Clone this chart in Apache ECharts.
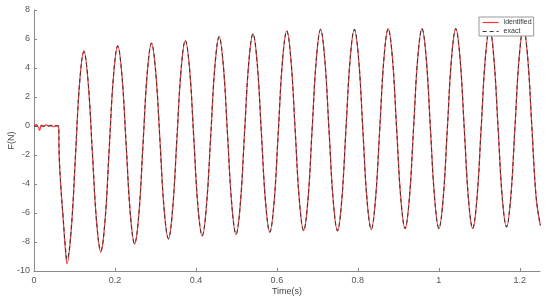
<!DOCTYPE html>
<html>
<head>
<meta charset="utf-8">
<script src="https://cdn.jsdelivr.net/npm/echarts@6/dist/echarts.min.js"></script>
<style>
  html, body { margin: 0; padding: 0; background: #fff; }
  #main { width: 550px; height: 301px; }
</style>
</head>
<body>
<div id="main"></div>
<script>
// sample times (s): flat start, the first drop, then 8 samples per cycle
const time = [
  0, 0.005, 0.010, 0.014, 0.018, 0.024, 0.030, 0.036, 0.042, 0.048, 0.054, 0.0605,
  0.0622, 0.0665, 0.0720, 0.0772,
  0.0815, 0.0919, 0.1024, 0.1128, 0.1233, 0.1337, 0.1441, 0.1546,
  0.1650, 0.1755, 0.1859, 0.1963, 0.2068, 0.2172, 0.2277, 0.2381,
  0.2485, 0.2590, 0.2694, 0.2799, 0.2903, 0.3007, 0.3112, 0.3216,
  0.3321, 0.3425, 0.3529, 0.3634, 0.3738, 0.3843, 0.3947, 0.4051,
  0.4156, 0.4260, 0.4365, 0.4469, 0.4573, 0.4678, 0.4782, 0.4887,
  0.4991, 0.5095, 0.5200, 0.5304, 0.5409, 0.5513, 0.5617, 0.5722,
  0.5826, 0.5931, 0.6035, 0.6139, 0.6244, 0.6348, 0.6453, 0.6557,
  0.6661, 0.6766, 0.6870, 0.6975, 0.7079, 0.7183, 0.7288, 0.7392,
  0.7497, 0.7601, 0.7705, 0.7810, 0.7914, 0.8019, 0.8123, 0.8227,
  0.8332, 0.8436, 0.8541, 0.8645, 0.8749, 0.8854, 0.8958, 0.9063,
  0.9167, 0.9271, 0.9376, 0.9480, 0.9585, 0.9689, 0.9793, 0.9898,
  1.0002, 1.0107, 1.0211, 1.0315, 1.0420, 1.0524, 1.0629, 1.0733,
  1.0837, 1.0942, 1.1046, 1.1151, 1.1255, 1.1359, 1.1464, 1.1568,
  1.1673, 1.1777, 1.1881, 1.1986, 1.2090, 1.2195, 1.2299, 1.2403,
  1.2508
];

// force (N)
const identified = [
  0.02, 0.1, -0.05, -0.3, 0.06, -0.04, 0.08, 0.0, 0.06, -0.05, 0.03, 0.02,
  -2.1, -4.3, -6.4, -8.4,
  -9.5, -7.2, -2.1, 3.05, 5.2, 3.0, -1.8, -6.6,
  -8.7, -6.5, -1.5, 3.4, 5.55, 3.5, -1.35, -6.1,
  -8.15, -6.1, -1.2, 3.7, 5.72, 3.7, -1.0, -5.8,
  -7.8, -5.7, -0.95, 3.9, 5.88, 3.95, -0.8, -5.6,
  -7.6, -5.5, -0.72, 4.1, 6.17, 4.15, -0.66, -5.45,
  -7.5, -5.45, -0.53, 4.3, 6.36, 4.37, -0.47, -5.32,
  -7.33, -5.25, -0.4, 4.5, 6.57, 4.55, -0.35, -5.2,
  -7.22, -5.15, -0.26, 4.63, 6.68, 4.6, -0.3, -5.15,
  -7.25, -5.2, -0.27, 4.6, 6.66, 4.65, -0.22, -5.1,
  -7.15, -5.06, -0.21, 4.66, 6.72, 4.7, -0.17, -5.05,
  -7.08, -5.05, -0.17, 4.7, 6.71, 4.68, -0.19, -5.02,
  -7.1, -5.03, -0.18, 4.7, 6.72, 4.7, -0.17, -5.05,
  -7.08, -5.02, -0.16, 4.72, 6.76, 4.73, -0.1, -4.95,
  -6.98, -4.93, -0.1, 4.75, 6.77, 4.75, -0.06, -4.87,
  -6.86
];

const exact = [
  0, 0, 0, 0, 0, 0, 0, 0, 0, 0, 0, 0,
  -2.0, -4.2, -6.3, -8.2,
  -9.2, -7.11, -2.05, 3.01, 5.1, 3.09, -1.75, -6.59,
  -8.6, -6.54, -1.55, 3.44, 5.5, 3.51, -1.3, -6.11,
  -8.1, -6.08, -1.2, 3.68, 5.7, 3.73, -1.03, -5.78,
  -7.75, -5.75, -0.93, 3.9, 5.9, 3.93, -0.83, -5.58,
  -7.55, -5.54, -0.7, 4.14, 6.15, 4.16, -0.65, -5.46,
  -7.45, -5.43, -0.55, 4.33, 6.35, 4.35, -0.48, -5.3,
  -7.3, -5.27, -0.38, 4.52, 6.55, 4.54, -0.33, -5.19,
  -7.2, -5.17, -0.28, 4.62, 6.65, 4.62, -0.28, -5.17,
  -7.2, -5.17, -0.28, 4.62, 6.65, 4.64, -0.23, -5.09,
  -7.1, -5.08, -0.2, 4.68, 6.7, 4.69, -0.18, -5.04,
  -7.05, -5.04, -0.18, 4.69, 6.7, 4.69, -0.18, -5.04,
  -7.05, -5.04, -0.18, 4.69, 6.7, 4.69, -0.18, -5.04,
  -7.05, -5.03, -0.15, 4.73, 6.75, 4.74, -0.1, -4.94,
  -6.95, -4.94, -0.1, 4.74, 6.75, 4.76, -0.05, -4.86,
  -6.85
];

const xTicks = [0, 0.2, 0.4, 0.6, 0.8, 1, 1.2];

const chart = echarts.init(document.getElementById("main"));

const axisColor = "#8a8a8a";
const textColor = "#555";
const font = "Liberation Sans, Arial, sans-serif";

const option = {
  animation: false,
  grid: { left: 34, right: 10, top: 10, bottom: 30, outerBoundsMode: "none" },
  legend: {
    left: 479,
    top: 17,
    orient: "vertical",
    backgroundColor: "#fff",
    borderColor: "#999",
    borderWidth: 1,
    borderRadius: 0,
    padding: [2, 2, 1, 3],
    itemWidth: 16,
    itemHeight: 7,
    itemGap: 2,
    itemStyle: { opacity: 0 },
    lineStyle: { width: 1.2 },
    textStyle: { fontSize: 7, color: "#333", fontFamily: font },
    data: ["identified", "exact"],
  },
  xAxis: {
    type: "value",
    min: 0,
    max: 1.25,
    interval: 0.2,
    name: "Time(s)",
    nameLocation: "middle",
    nameGap: 16,
    nameMoveOverlap: false,
    nameTextStyle: { fontSize: 9, color: "#444", fontFamily: font },
    axisLine: { onZero: false, lineStyle: { color: axisColor } },
    axisTick: { inside: true, length: 3, customValues: xTicks, lineStyle: { color: axisColor } },
    axisLabel: { customValues: xTicks, fontSize: 9, color: textColor, margin: 5, fontFamily: font },
    splitLine: { show: false },
  },
  yAxis: {
    type: "value",
    min: -10,
    max: 8,
    interval: 2,
    name: "F(N)",
    nameLocation: "middle",
    nameGap: 18,
    nameMoveOverlap: false,
    nameTextStyle: { fontSize: 9, color: "#444", fontFamily: font },
    axisLine: { show: true, onZero: false, lineStyle: { color: axisColor } },
    axisTick: { show: true, inside: true, length: 3, lineStyle: { color: axisColor } },
    axisLabel: { fontSize: 9, color: textColor, margin: 4, fontFamily: font },
    splitLine: { show: false },
  },
  series: [
    {
      name: "identified",
      type: "line",
      symbol: "none",
      smooth: 0.4,
      lineStyle: { color: "#f33", width: 1.2 },
      itemStyle: { color: "#f33" },
      data: time.map((t, i) => [t, identified[i]]),
    },
    {
      name: "exact",
      type: "line",
      symbol: "none",
      smooth: 0.4,
      lineStyle: { color: "#3a3a3a", width: 1.1, type: [4, 3] },
      itemStyle: { color: "#3a3a3a" },
      data: time.map((t, i) => [t, exact[i]]),
    },
  ],
};

chart.setOption(option);
</script>
</body>
</html>
